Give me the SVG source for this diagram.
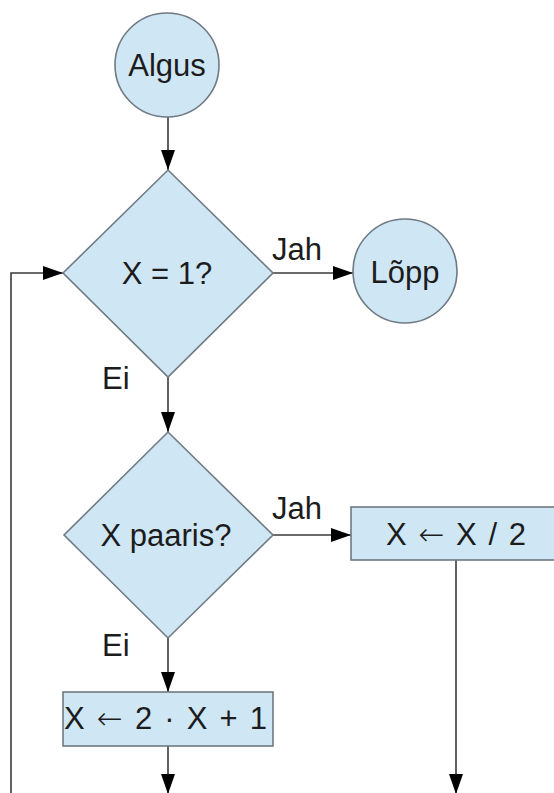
<svg xmlns="http://www.w3.org/2000/svg" width="554" height="793" viewBox="0 0 554 793">
<style>
.shape{fill:#cfe6f5;stroke:#6f7a82;stroke-width:1.6}
.lbl{font-family:"Liberation Sans",Arial,sans-serif;font-size:31px;fill:#1c1c1c}
.mid{text-anchor:middle}
.ar{font-family:"DejaVu Sans",sans-serif;font-weight:300}
.conn{fill:none;stroke:#3a3a3a;stroke-width:1.6}
</style>
<defs>
<marker id="arr" markerUnits="userSpaceOnUse" markerWidth="22" markerHeight="16" refX="20" refY="7" orient="auto">
<path d="M0,0 L20,7 L0,14 Z" fill="#000"/>
</marker>
</defs>
<rect width="554" height="793" fill="#fff"/>
<g id="connectors">
<line class="conn" x1="168" y1="117" x2="168" y2="170" marker-end="url(#arr)"/>
<line class="conn" x1="273" y1="273" x2="353" y2="273" marker-end="url(#arr)"/>
<line class="conn" x1="168" y1="377" x2="168" y2="432" marker-end="url(#arr)"/>
<line class="conn" x1="273" y1="535" x2="351" y2="535" marker-end="url(#arr)"/>
<line class="conn" x1="168" y1="638" x2="168" y2="692" marker-end="url(#arr)"/>
<line class="conn" x1="168" y1="746" x2="168" y2="794" marker-end="url(#arr)"/>
<line class="conn" x1="456" y1="560" x2="456" y2="794" marker-end="url(#arr)"/>
<polyline class="conn" points="11,800 11,273 63,273" marker-end="url(#arr)"/>
<text class="lbl" x="272" y="260">Jah</text>
<text class="lbl" x="102" y="389">Ei</text>
<text class="lbl" x="272" y="519">Jah</text>
<text class="lbl" x="102" y="656">Ei</text>
</g>
<g id="algus">
<circle class="shape" cx="167" cy="65" r="52"/>
<text class="lbl mid" x="167" y="76" font-size="32">Algus</text>
</g>
<g id="cond1">
<polygon class="shape" points="168,170 273,273 168,377 63,273"/>
<text class="lbl mid" x="167" y="284">X = 1?</text>
</g>
<g id="lopp">
<circle class="shape" cx="405" cy="271" r="52"/>
<text class="lbl mid" x="405" y="283" font-size="32">Lõpp</text>
</g>
<g id="cond2">
<polygon class="shape" points="168,432 273,535 168,638 64,535"/>
<text class="lbl mid" x="166" y="546" font-size="32">X paaris?</text>
</g>
<g id="half">
<rect class="shape" x="351" y="507" width="212" height="53"/>
<text class="lbl" x="386" y="545" textLength="140" lengthAdjust="spacing">X <tspan class="ar">←</tspan> X / 2</text>
</g>
<g id="triple">
<rect class="shape" x="63" y="692" width="210" height="54"/>
<text class="lbl" x="64" y="729" textLength="203" lengthAdjust="spacing">X <tspan class="ar">←</tspan> 2 · X + 1</text>
</g>
</svg>
